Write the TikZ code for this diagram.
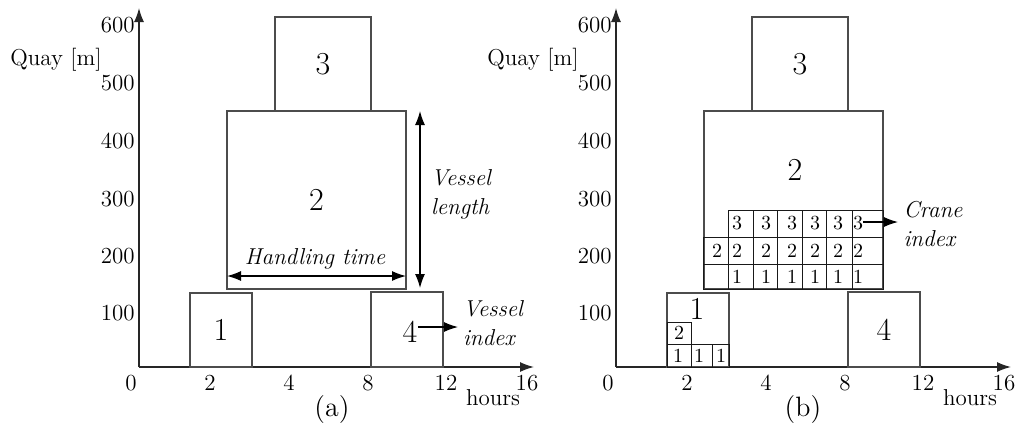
\documentclass[tikz,border=0pt]{standalone}
\usetikzlibrary{arrows.meta}
\begin{document}
\begin{tikzpicture}[x=0.5pt,y=-0.5pt,
  box/.style={draw=black!70, line width=0.7pt, inner sep=0pt, outer sep=0pt},
  cell/.style={draw=black!90, line width=0.45pt, inner sep=0pt, outer sep=0pt},
  big/.style={font=\fontsize{16}{18}\selectfont},
  bigl/.style={font=\fontsize{16}{18}\selectfont, inner sep=0pt},
  tick/.style={font=\fontsize{11.5}{13}\selectfont, inner sep=0pt},
  small/.style={font=\fontsize{10}{12}\selectfont, inner sep=0pt},
  note/.style={font=\fontsize{11.5}{14.5}\selectfont\itshape, align=left, inner sep=0pt},
  captxt/.style={font=\fontsize{14}{16}\selectfont, inner sep=0pt},
  axis/.style={line width=0.7pt, draw=black!85, -{Latex[length=7pt,width=5pt]}},
  arr/.style={line width=0.6pt, -{Latex[length=7pt,width=5pt]}},
  dim/.style={line width=0.6pt, {Latex[length=7pt,width=5pt]}-{Latex[length=7pt,width=5pt]}},
]
\useasboundingbox (0,0) rectangle (1016,430);

% ---------------- panel (a) ----------------
\coordinate (oA) at (139,367);
\coordinate (yA) at (139,8);
\coordinate (xA) at (534,367);
\draw[axis] (oA) -- (yA);
\draw[axis] (oA) -- (xA);
\foreach \lab/\x in {0/131,2/210,4/289,8/368,12/446,16/527}
  \node[tick] (xa\lab) at (\x,383) {\lab};
\foreach \lab/\y in {600/25,500/83,400/141,300/199,200/256,100/313}
  \node[tick,anchor=east] (ya\lab) at (135,\y) {\lab};
\node[tick] (qA) at (56,60) {Quay [m]};
\node[tick] (hA) at (493,398) {hours};
\node[captxt] (capA) at (332,410) {(a)};

\node[box,big,minimum width=31pt,minimum height=37pt] (a1) at (221,330) {1};
\node[box,big,minimum width=89.5pt,minimum height=89pt] (a2) at (316.5,200) {2};
\node[box,big,minimum width=48pt,minimum height=47pt] (a3) at (323,64) {3};
\node[box,minimum width=36pt,minimum height=37.5pt] (a4) at (407,329.5) {};
\node[bigl] (a4l) at (410,332) {4};

\draw[dim] ([yshift=6.5pt]a2.south west) -- ([yshift=6.5pt]a2.south east);
\node[note] (ht) at (315,259) {Handling time};
\draw[dim] ([xshift=7pt]a2.north east) -- ([xshift=7pt,yshift=0.5pt]a2.south east);
\node[note] (vl) at (461,194) {Vessel\\length};
\coordinate (viend) at (458,327);
\draw[arr] (a4l.east |- viend) -- (viend);
\node[note] (vi) at (493,323) {Vessel\\index};

% ---------------- panel (b) ----------------
\coordinate (oB) at (616,367);
\coordinate (yB) at (616,8);
\coordinate (xB) at (1011,367);
\draw[axis] (oB) -- (yB);
\draw[axis] (oB) -- (xB);
\foreach \lab/\x in {0/608,2/687,4/766,8/845,12/923,16/1004}
  \node[tick] (xb\lab) at (\x,383) {\lab};
\foreach \lab/\y in {600/25,500/83,400/141,300/199,200/256,100/313}
  \node[tick,anchor=east] (yb\lab) at (612,\y) {\lab};
\node[tick] (qB) at (533,60) {Quay [m]};
\node[tick] (hB) at (970,398) {hours};
\node[captxt] (capB) at (803,410) {(b)};

\node[box,minimum width=31pt,minimum height=37pt] (b1) at (698,330) {};
\node[bigl] (b1l) at (697,309) {1};
\node[box,minimum width=89.5pt,minimum height=89pt] (b2) at (793.5,200) {};
\node[bigl] (b2l) at (795,170) {2};
\node[box,big,minimum width=48pt,minimum height=47pt] (b3) at (800,64) {3};
\node[box,big,minimum width=36pt,minimum height=37.5pt] (b4) at (884,329.5) {4};

% crane grid of vessel 2
\foreach \xa/\xb [count=\i] in {703/728,728/753,753/777,777/802,802/826,826/852,852/883}{
  \node[cell,minimum width={(\xb-\xa)*0.5pt},minimum height=13.5pt] (m\i) at ({(\xa+\xb)/2},250.5) {};
  \node[cell,minimum width={(\xb-\xa)*0.5pt},minimum height=12.5pt] (d\i) at ({(\xa+\xb)/2},276.5) {};
}
\foreach \xa/\xb [count=\i from 2] in {728/753,753/777,777/802,802/826,826/852,852/883}
  \node[cell,minimum width={(\xb-\xa)*0.5pt},minimum height=13.5pt] (t\i) at ({(\xa+\xb)/2},223.5) {};
\foreach \x [count=\i from 2] in {737,766,792,815,838,858}{
  \node[small] (t\i n) at (\x,223.5) {3};
  \node[small] (d\i n) at (\x,277) {1};
}
\foreach \x [count=\i] in {717,737,766,792,815,838,858}
  \node[small] (m\i n) at (\x,250.5) {2};
\coordinate (ciend) at (898,222);
\draw[arr] (t7n.east |- ciend) -- (ciend);
\node[note] (ci) at (933,224) {Crane\\index};

% crane grid of vessel 1
\foreach \xa/\xb/\x [count=\i] in {667/691/678,691/712/699,712/729/721}{
  \node[cell,minimum width={(\xb-\xa)*0.5pt},minimum height=11.5pt] (e\i) at ({(\xa+\xb)/2},355.5) {};
  \node[small] (e\i n) at (\x,356) {1};
}
\node[cell,minimum width=12pt,minimum height=11pt] (f1) at (679,333) {};
\node[small] (f1n) at (679,332.5) {2};
\end{tikzpicture}
\end{document}
